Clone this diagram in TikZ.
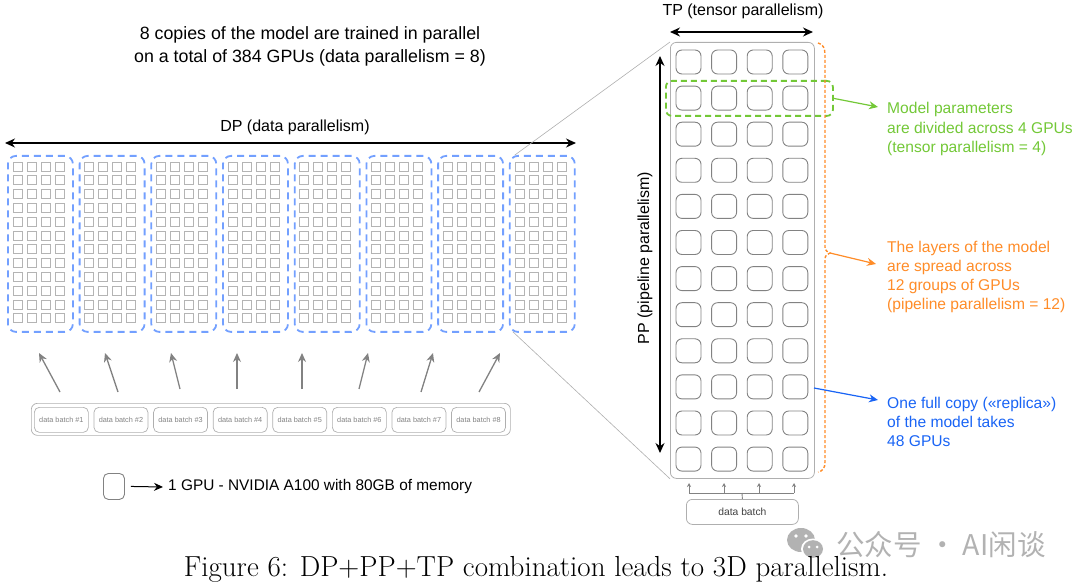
\documentclass[tikz,border=0pt]{standalone}
\usepackage{fontspec}
\newfontfamily\arial{Liberation Sans}
\newfontfamily\lmr{Latin Modern Roman}
\newfontfamily\cjk{Noto Sans CJK SC}
\usetikzlibrary{arrows.meta,calc}
\definecolor{repblue}{RGB}{115,160,255}
\definecolor{lblue}{RGB}{25,100,245}
\definecolor{lgreen}{RGB}{115,200,55}
\definecolor{lorange}{RGB}{255,140,40}
\definecolor{minigray}{RGB}{180,180,180}
\definecolor{gpugray}{RGB}{130,130,130}
\definecolor{boxgray}{RGB}{175,175,175}
\tikzset{
  rep/.style={draw=repblue, line width=1.8pt, dash pattern=on 7pt off 5pt, rounded corners=8pt,
    minimum width=65pt, minimum height=176pt, anchor=north west, inner sep=0pt},
  mini/.style={draw=minigray, line width=0.8pt},
  gpu/.style={draw=gpugray, line width=0.9pt, rounded corners=6pt},
  dbl/.style={{Stealth[length=10pt,width=9pt]}-{Stealth[length=10pt,width=9pt]}, line width=1.3pt},
  uparrow/.style={-{Stealth[length=9pt,width=8pt]}, draw=gpugray, line width=1.3pt},
  batch/.style={draw=boxgray, line width=0.7pt, rounded corners=5pt, minimum width=54pt, minimum height=25pt,
    anchor=north west, inner sep=0pt, text=gpugray, font=\arial\fontsize{7.3}{8}\selectfont},
  lbl/.style={anchor=west, align=left, inner sep=0pt, font=\arial\fontsize{15.6}{19.3}\selectfont},
  zoomline/.style={draw=boxgray, line width=0.6pt},
  txt/.style={font=\arial\fontsize{16}{19}\selectfont, inner sep=0pt},
}
\begin{document}
\begin{tikzpicture}[x=1pt,y=-1pt]
\useasboundingbox (0,0) rectangle (1080,588);
% top text
\node[font=\arial\fontsize{17.8}{23}\selectfont, align=center, inner sep=0pt] (title) at (310,46)
  {8 copies of the model are trained in parallel\\on a total of 384 GPUs (data parallelism = 8)};
% DP arrow
\coordinate (dpL) at (5,143);
\coordinate (dpR) at (576,143);
\draw[dbl] (dpL) -- (dpR);
\node[txt] (dplabel) at (295,127) {DP (data parallelism)};
% big replica box (right)
\node[draw=boxgray, rounded corners=6pt, line width=0.8pt, minimum width=144pt, minimum height=436pt,
  anchor=north west, inner sep=0pt] (big) at (670,42) {};
% replicas
\foreach \i in {1,...,8}{
  \node[rep] (rep\i) at ({7+71.7*(\i-1)},155) {};
}
% zoom lines
\draw[zoomline] ($(rep8.north west)+(6,0)$) -- (big.north west);
\draw[zoomline] ($(rep8.south west)+(4,-1)$) -- (big.south west);
% mini squares
\foreach \i in {0,...,7}{
  \foreach \c in {0,...,3}{
    \foreach \r in {0,...,11}{
      \draw[mini] ({7+71.7*\i+6+14*\c},{162+13.8*\r}) rectangle ++(9,9);
    }
  }
}
% data batches
\node[draw=boxgray, line width=0.7pt, rounded corners=6pt, minimum width=479pt, minimum height=32pt,
  anchor=north west, inner sep=0pt] (batches) at (31,403) {};
\foreach \i in {1,...,8}{
  \node[batch] (db\i) at ({34+59.6*(\i-1)},407) {data batch \#\i};
}
% arrows from batches
\coordinate (t1) at (60,392);  \coordinate (h1) at (39,353);
\coordinate (t2) at (118,392); \coordinate (h2) at (105,353);
\coordinate (t3) at (180,389); \coordinate (h3) at (171,353);
\coordinate (t4) at (237,389); \coordinate (h4) at (237,353);
\coordinate (t5) at (302,389); \coordinate (h5) at (302,353);
\coordinate (t6) at (359,389); \coordinate (h6) at (368,353);
\coordinate (t7) at (421,392); \coordinate (h7) at (433,353);
\coordinate (t8) at (479,392); \coordinate (h8) at (500,353);
\foreach \i in {1,...,8}{ \draw[uparrow] (t\i) -- (h\i); }
% legend
\node[draw=gpugray, line width=0.9pt, rounded corners=5pt, minimum width=21pt, minimum height=26pt,
  anchor=north west, inner sep=0pt] (legend) at (103,473) {};
\node[anchor=west, inner sep=0pt, font=\arial\fontsize{15.4}{18}\selectfont] (legtext) at (168,487)
  {1 GPU - NVIDIA A100 with 80GB of memory};
\draw[-{Stealth[length=9pt,width=8pt]}, line width=1pt] ($(legend.east)+(6,0)$) -- ($(legtext.west)+(-5,0)$);
% GPU squares in big box
\foreach \c in {0,...,3}{
  \foreach \r in {0,...,11}{
    \draw[gpu] ({676+35.6*\c},{50+36.1*\r}) rectangle ++(25,24);
  }
}
% TP arrow
\coordinate (tpL) at (670,32);
\coordinate (tpR) at (813,32);
\draw[dbl] (tpL) -- (tpR);
\node[txt] (tplabel) at (743,11) {TP (tensor parallelism)};
% PP arrow
\coordinate (ppT) at (660,56);
\coordinate (ppB) at (660,453);
\draw[dbl] (ppT) -- (ppB);
\node[txt, rotate=90] (pplabel) at (645,258) {PP (pipeline parallelism)};
% green group
\node[draw=lgreen, line width=1.8pt, dash pattern=on 6pt off 4pt, rounded corners=6pt,
  minimum width=167pt, minimum height=35pt, anchor=north west, inner sep=0pt] (tpgroup) at (665,80) {};
\node[lbl, text=lgreen] (greentext) at (887,129)
  {Model parameters\\are divided across 4 GPUs\\(tensor parallelism = 4)};
\coordinate (gtip) at (878,107);
\draw[-{Stealth[length=9pt,width=8pt]}, draw=lgreen, line width=1.2pt] (tpgroup.east) -- (gtip);
% orange brace
\coordinate (ppbrace) at (830,253);
\draw[draw=lorange, line width=1.4pt, dash pattern=on 3pt off 2pt]
  (818,43) .. controls (823,44) and (825,48) .. (825,55) -- (825,247)
  .. controls (825,251) and (828,252) .. (ppbrace)
  .. controls (828,254) and (825,255) .. (825,259) -- (825,462)
  .. controls (825,468) and (823,471) .. (818,472);
\coordinate (otip) at (876,264);
\draw[-{Stealth[length=9pt,width=8pt]}, draw=lorange, line width=1.2pt] (ppbrace) -- (otip);
\node[lbl, text=lorange] (orangetext) at (887,277)
  {The layers of the model\\are spread across\\12 groups of GPUs\\(pipeline parallelism = 12)};
% blue arrow
\coordinate (bstart) at (814,388);
\coordinate (btip) at (878,400);
\draw[-{Stealth[length=9pt,width=8pt]}, draw=lblue, line width=1.2pt] (bstart) -- (btip);
\node[lbl, text=lblue] (bluetext) at (887,422)
  {One full copy («replica»)\\of the model takes\\48 GPUs};
% bottom data batch
\node[draw=boxgray, line width=0.8pt, rounded corners=6pt, minimum width=112pt, minimum height=25pt,
  anchor=north west, inner sep=0pt, font=\arial\fontsize{10.3}{12}\selectfont, text=black!75] (dbb) at (686,499) {data batch};
\coordinate (bl) at (689,493);
\coordinate (br) at (794,493);
\draw[draw=gpugray, line width=0.9pt] (bl) -- (br);
\draw[draw=gpugray, line width=0.9pt] (dbb.north) -- (742,493);
\foreach \x in {689,724,759,794}{
  \draw[-{Stealth[length=4pt,width=4pt]}, draw=gpugray, line width=0.9pt] (\x,493) -- (\x,483);
}
% watermark (WeChat-style icon)
\fill[black!30] (801,540) ellipse (14pt and 12pt);
\fill[white] (813,549) ellipse (12pt and 10.5pt);
\fill[black!30] (813,549) ellipse (10pt and 8.8pt);
\fill[white] (796,536) circle (1.8pt);
\fill[white] (806,536) circle (1.8pt);
\fill[white] (809,547) circle (1.5pt);
\fill[white] (817,547) circle (1.5pt);
\node[anchor=west, inner sep=0pt, text=black!30, font=\cjk\fontsize{28.5}{30}\selectfont] (wm) at (836,545) {公众号 · AI闲谈};
% caption
\node[font=\lmr\fontsize{29}{32}\selectfont, inner sep=0pt] (caption) at (536,569)
  {Figure 6: DP+PP+TP combination leads to 3D parallelism.};
\end{tikzpicture}
\end{document}
